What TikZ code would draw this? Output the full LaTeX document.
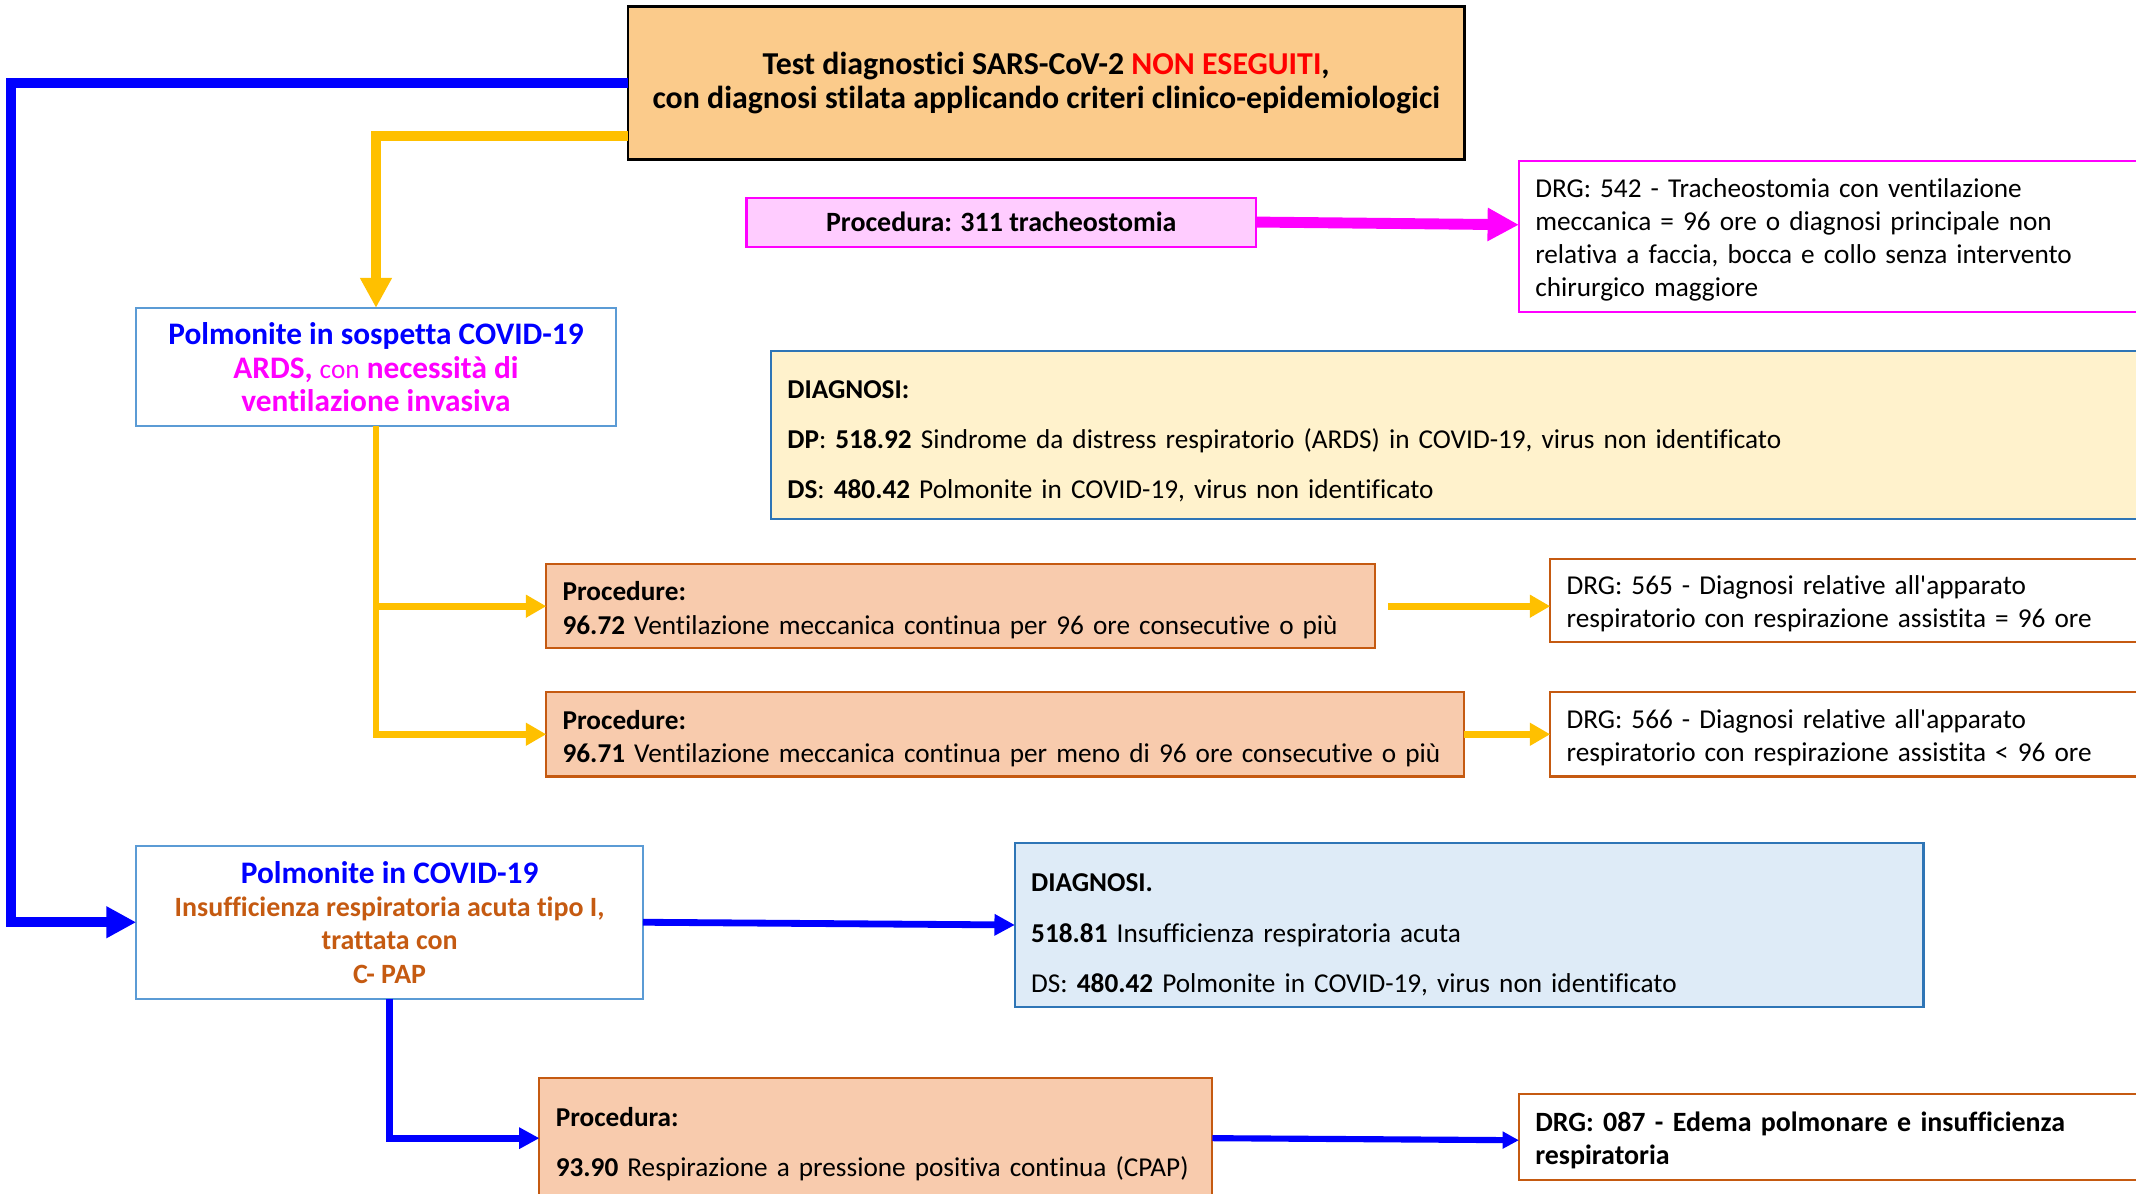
\documentclass[tikz,border=0pt]{standalone}
\usepackage{fontspec}
\setmainfont{Carlito}[Ligatures={TeXOff,CommonOff}]
\usetikzlibrary{arrows.meta}
\definecolor{topfill}{RGB}{251,203,139}
\definecolor{ablue}{RGB}{0,0,255}
\definecolor{amag}{RGB}{255,0,255}
\definecolor{aorange}{RGB}{255,192,0}
\definecolor{lblue}{RGB}{91,155,213}
\definecolor{pinkfill}{RGB}{255,204,255}
\definecolor{yelfill}{RGB}{255,242,204}
\definecolor{dblue}{RGB}{46,117,182}
\definecolor{procfill}{RGB}{248,203,173}
\definecolor{rust}{RGB}{197,90,17}
\definecolor{bluefill}{RGB}{222,235,247}
\definecolor{ared}{RGB}{255,0,0}
\begin{document}
\begin{tikzpicture}[x=1pt,y=-1pt,
  every node/.style={font=\fontsize{20}{24.5}\selectfont, inner sep=0pt, outer sep=0pt, anchor=north west},
  cbox/.style={align=center, inner xsep=4pt},
  lbox/.style={align=left, inner xsep=12pt},
  tdown/.style={execute at begin node={\rule{0pt}{#1}}},
  bigarrow/.style={line width=7pt, -{Triangle[length=22pt,width=22pt]}},
  magarrow/.style={draw=amag, line width=8pt, -{Triangle[length=23pt,width=23pt]}},
  midarrow/.style={line width=5pt, -{Triangle[length=15pt,width=16pt]}},
  smallarrow/.style={line width=4.5pt, -{Triangle[length=12pt,width=12pt]}}
]
\useasboundingbox (0,0) rectangle (1568,876);
\clip (0,0) rectangle (1568,876);

% boxes
\node[cbox, draw=black, line width=2pt, fill=topfill, minimum width=614pt, minimum height=112pt, font=\fontsize{23.4}{25}\selectfont\bfseries, tdown=20pt] (top) at (461,5)
  {Test diagnostici SARS-CoV-2 \textcolor{ared}{NON ESEGUITI},\\con diagnosi stilata applicando criteri clinico-epidemiologici};

\node[cbox, draw=lblue, line width=1.5pt, fill=white, minimum width=352pt, minimum height=87pt, font=\fontsize{23}{24.6}\selectfont] (box1) at (100,226)
  {\textcolor{ablue}{\bfseries Polmonite in sospetta COVID-19}\\
   \textcolor{amag}{\bfseries ARDS,} \textcolor{amag}{\fontsize{20}{24.6}\selectfont con} \textcolor{amag}{\bfseries necessità di}\\
   \textcolor{amag}{\bfseries ventilazione invasiva}};

\node[cbox, draw=amag, line width=1.5pt, fill=pinkfill, minimum width=374pt, minimum height=36pt, font=\fontsize{20.5}{24.5}\selectfont\bfseries] (pink) at (548,145)
  {Procedura: 311 tracheostomia};

\node[lbox, draw=amag, line width=1.5pt, fill=white, text width=461pt, minimum height=111pt, font=\fontsize{20}{24.3}\selectfont, tdown=19pt] (drgA) at (1115,118)
  {DRG: 542 - Tracheostomia con ventilazione\\meccanica = 96 ore o diagnosi principale non\\relativa a faccia, bocca e collo senza intervento\\chirurgico maggiore};

\node[lbox, draw=dblue, line width=1.5pt, fill=yelfill, text width=1010pt, minimum height=123pt, tdown=22pt] (diagA) at (566,258)
  {\textbf{DIAGNOSI:}\\[12.5pt]
   \textbf{DP}: \textbf{518.92} Sindrome da distress respiratorio (ARDS) in COVID-19, virus non identificato\\[12.5pt]
   \textbf{DS}: \textbf{480.42} Polmonite in COVID-19, virus non identificato};

\node[lbox, draw=rust, line width=1.5pt, fill=procfill, text width=584pt, minimum height=62pt, tdown=20pt] (procA) at (401,414)
  {\textbf{Procedure:}\\\mbox{\textbf{96.72} Ventilazione meccanica continua per 96 ore consecutive o più}};

\node[lbox, draw=rust, line width=1.5pt, fill=white, text width=438pt, minimum height=61pt, tdown=19pt] (drgB) at (1138,410)
  {DRG: 565 - Diagnosi relative all'apparato\\respiratorio con respirazione assistita = 96 ore};

\node[lbox, draw=rust, line width=1.5pt, fill=procfill, text width=650pt, minimum height=62pt, tdown=20pt] (procB) at (401,508)
  {\textbf{Procedure:}\\\mbox{\textbf{96.71} Ventilazione meccanica continua per meno di 96 ore consecutive o più}};

\node[lbox, draw=rust, line width=1.5pt, fill=white, text width=438pt, minimum height=62pt, tdown=19pt] (drgC) at (1138,508)
  {DRG: 566 - Diagnosi relative all'apparato\\respiratorio con respirazione assistita < 96 ore};

\node[cbox, draw=lblue, line width=1.5pt, fill=white, minimum width=372pt, minimum height=112pt, font=\fontsize{20.5}{24.5}\selectfont] (box2) at (100,621)
  {\textcolor{ablue}{\fontsize{23}{24.5}\selectfont\bfseries Polmonite in COVID-19}\\
   {\color{rust}\bfseries Insufficienza respiratoria acuta tipo I,}\\
   {\color{rust}\bfseries trattata con}\\
   {\color{rust}\bfseries C- PAP}};

\node[lbox, draw=dblue, line width=1.5pt, fill=bluefill, text width=643pt, minimum height=120pt, tdown=28pt] (diagB) at (745,619)
  {\textbf{DIAGNOSI.}\\[12.5pt]
   \textbf{518.81} Insufficienza respiratoria acuta\\[12.5pt]
   DS: \textbf{480.42} Polmonite in COVID-19, virus non identificato};

\node[lbox, draw=rust, line width=1.5pt, fill=procfill, text width=470pt, minimum height=89pt, tdown=23pt] (procC) at (396,791)
  {\textbf{Procedura:}\\[12.5pt]\mbox{\textbf{93.90} Respirazione a pressione positiva continua (CPAP)}};

\node[lbox, draw=rust, line width=1.5pt, fill=white, text width=461pt, minimum height=63pt, font=\fontsize{20.5}{24.5}\selectfont\bfseries, tdown=20pt] (drgD) at (1115,803)
  {DRG: 087 - Edema polmonare e insufficienza\\respiratoria};

% connectors
\coordinate (bl) at (8,61);
\draw[ablue, bigarrow] (top.west) -- (bl) |- (box2.west);
\draw[aorange, bigarrow] ([yshift=17pt]top.south west) -| (box1.north);
\draw[magarrow] (pink.east) -- ([yshift=-2pt]pink.east -| drgA.west);
\draw[aorange, midarrow] (box1.south) |- (procA.west);
\draw[aorange, midarrow] (box1.south) |- (procB.west);
\draw[aorange, midarrow, shorten <=10pt] (procA.east) -- (procA.east -| drgB.west);
\draw[aorange, midarrow] (procB.east) -- (procB.east -| drgC.west);
\draw[ablue, line width=5pt, -{Triangle[length=15pt,width=15pt]}] (box2.east) -- (diagB.west);
\draw[ablue, line width=5pt, -{Triangle[length=15pt,width=15pt]}] (box2.south) |- (procC.west);
\draw[ablue, smallarrow] (procC.east) -- ([yshift=-1.5pt]procC.east -| drgD.west);
\end{tikzpicture}
\end{document}
